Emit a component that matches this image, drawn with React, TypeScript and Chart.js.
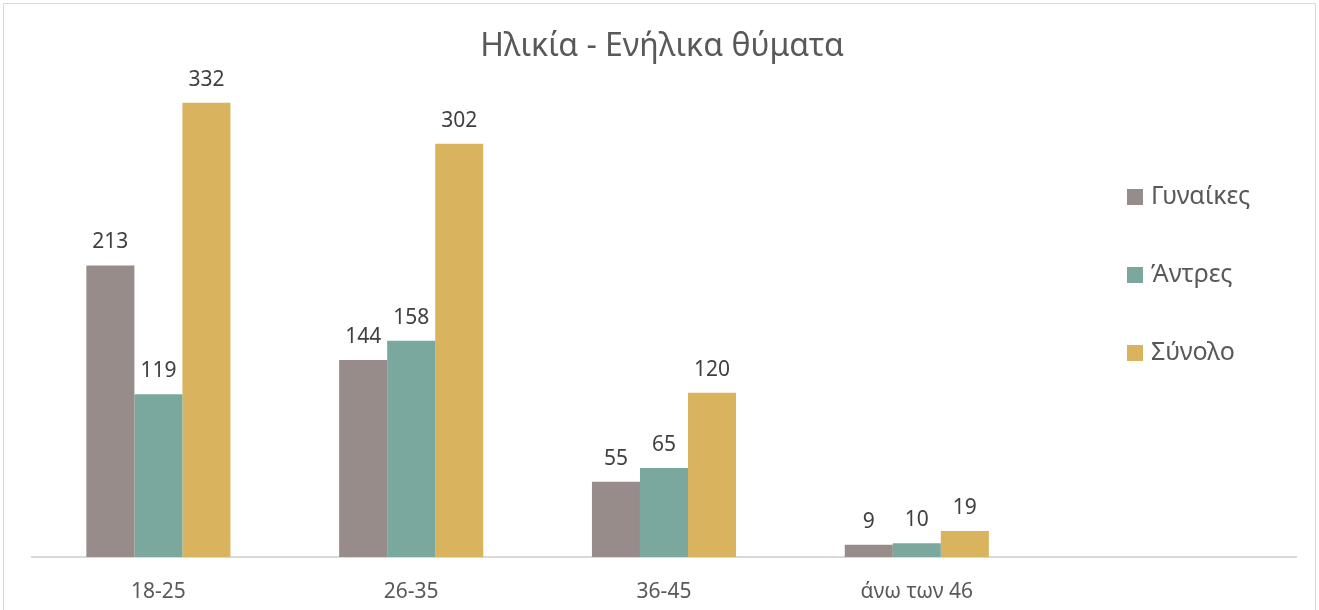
import React, { useEffect, useRef } from "react";
import { Chart, registerables } from "chart.js";

Chart.register(...registerables);

const categories = ["18-25", "26-35", "36-45", "άνω των 46", ""];
const women = [213, 144, 55, 9, null];
const men = [119, 158, 65, 10, null];
const total = [332, 302, 120, 19, null];
const seriesNames = ["Γυναίκες", "Άντρες", "Σύνολο"];
const seriesColors = ["#978C89", "#7BA89E", "#D9B35E"];
const titleText = "Ηλικία - Ενήλικα θύματα";

const FONT = "'Noto Sans', sans-serif";

const overlayPlugin = {
  id: "overlay",
  afterDatasetsDraw(chart: any) {
    const ctx = chart.ctx;
    ctx.save();
    // data labels
    ctx.font = `21px ${FONT}`;
    ctx.fillStyle = "#404040";
    ctx.textAlign = "center";
    ctx.textBaseline = "alphabetic";
    chart.data.datasets.forEach((ds: any, i: number) => {
      const meta = chart.getDatasetMeta(i);
      meta.data.forEach((el: any, j: number) => {
        const v = ds.data[j];
        if (v == null) return;
        ctx.fillText(String(v), el.x, el.y - 17);
      });
    });
    // legend
    ctx.font = `25px ${FONT}`;
    ctx.textAlign = "left";
    const ys = [197, 275, 353];
    seriesNames.forEach((n, i) => {
      ctx.fillStyle = seriesColors[i];
      ctx.fillRect(1127, ys[i] - 8, 16, 16);
      ctx.fillStyle = "#595959";
      ctx.fillText(n, 1151, ys[i] + 7);
    });
    // title
    ctx.font = `32px ${FONT}`;
    ctx.textAlign = "center";
    ctx.fillStyle = "#595959";
    ctx.fillText(titleText, 662, 56);
    // chart border
    ctx.strokeStyle = "#d9d9d9";
    ctx.lineWidth = 1;
    ctx.beginPath();
    ctx.moveTo(3.5, 612);
    ctx.lineTo(3.5, 3.5);
    ctx.lineTo(1315.5, 3.5);
    ctx.lineTo(1315.5, 612);
    ctx.stroke();
    ctx.restore();
  },
};

export default function App() {
  const ref = useRef<HTMLCanvasElement>(null);
  useEffect(() => {
    document.body.style.margin = "0";
    const chart = new Chart(ref.current!, {
      type: "bar",
      data: {
        labels: categories,
        datasets: [
          { label: seriesNames[0], data: women, backgroundColor: seriesColors[0] },
          { label: seriesNames[1], data: men, backgroundColor: seriesColors[1] },
          { label: seriesNames[2], data: total, backgroundColor: seriesColors[2] },
        ],
      },
      options: {
        animation: false,
        responsive: false,
        maintainAspectRatio: false,
        layout: { padding: { left: 32, right: 23, top: 78, bottom: 0 } },
        plugins: {
          legend: { display: false },
          title: { display: false },
          tooltip: { enabled: false },
        },
        datasets: {
          bar: { categoryPercentage: 0.57, barPercentage: 1 },
        },
        scales: {
          x: {
            grid: { display: false, drawTicks: false, tickLength: 0 },
            border: { display: true, color: "#d9d9d9", width: 2 },
            ticks: { color: "#595959", font: { family: FONT, size: 21 }, padding: 22, maxRotation: 0 },
            afterFit: (scale: any) => {
              scale.height = 53;
            },
          },
          y: {
            display: false,
            min: 0,
            max: 350,
          },
        },
      },
      plugins: [overlayPlugin],
    });
    return () => chart.destroy();
  }, []);
  return (
    <div style={{ position: "absolute", left: 0, top: 0, width: 1319, height: 610 }}>
      <canvas ref={ref} width={1319} height={610} style={{ display: "block" }} />
    </div>
  );
}
